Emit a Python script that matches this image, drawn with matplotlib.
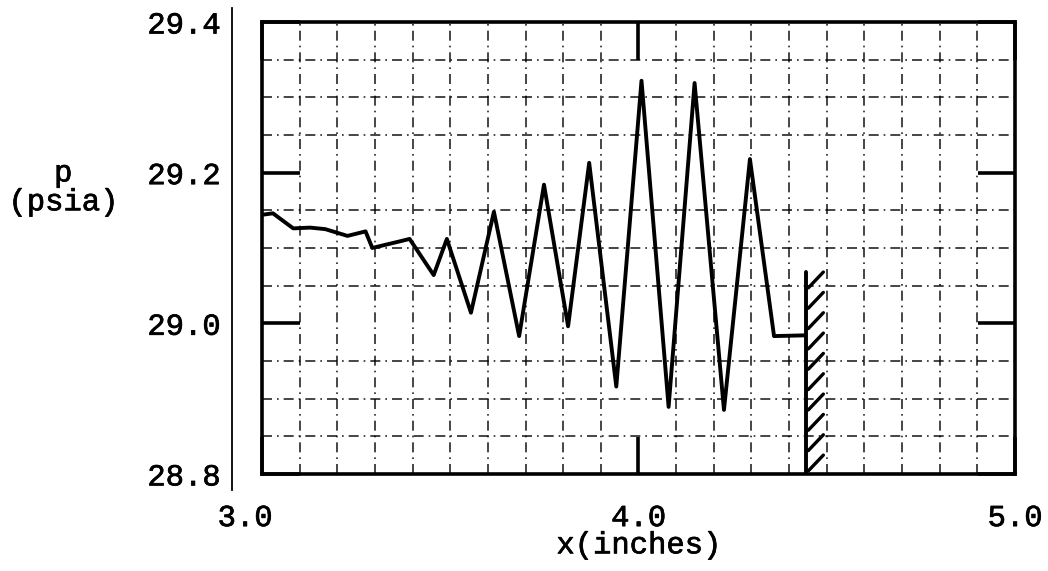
import matplotlib
matplotlib.use("Agg")
import matplotlib.pyplot as plt
import matplotlib.transforms as mtransforms
import matplotlib.patheffects as pe
import numpy as np

# ---- data ----
x_in = [3.0, 3.029, 3.083, 3.128, 3.168, 3.227, 3.275, 3.293, 3.368, 3.392,
        3.456, 3.491, 3.555, 3.616, 3.683, 3.749, 3.813, 3.869, 3.941, 4.008,
        4.080, 4.149, 4.227, 4.296, 4.360, 4.443]
p_psia = [29.144, 29.146, 29.126, 29.127, 29.125, 29.116, 29.122, 29.100, 29.109, 29.112,
          29.064, 29.112, 29.014, 29.148, 28.983, 29.184, 28.996, 29.213, 28.916, 29.322,
          28.889, 29.319, 28.885, 29.218, 28.983, 28.984]
wall_x = 4.445
wall_top = 29.068

x_ticks = [3.0, 4.0, 5.0]
x_tick_labels = ["3.0", "4.0", "5.0"]
y_ticks = [28.8, 29.0, 29.2, 29.4]
y_tick_labels = ["28.8", "29.0", "29.2", "29.4"]
x_grid_step = 0.1
y_grid_step = 0.05

# hatch styling (wall symbol)
hatch_step = 0.027
hatch_dx = 0.040
hatch_dy = 0.021

mono = ["Liberation Mono", "DejaVu Sans Mono"]
fs = 22
heavy = [pe.withStroke(linewidth=0.5, foreground="black")]

fig = plt.figure(figsize=(10.48, 5.71), dpi=100)
ax = fig.add_axes([0.25, 0.17, 0.7185, 0.7915])

ax.set_xlim(3.0, 5.0)
ax.set_ylim(28.8, 29.4)

# grid (graph paper)
ax.set_xticks(np.arange(3.0 + x_grid_step, 5.0 - 1e-9, x_grid_step), minor=True)
ax.set_yticks(np.arange(28.8 + y_grid_step, 29.4 - 1e-9, y_grid_step), minor=True)
ax.grid(which="minor", color="black", linestyle=(0, (6, 3, 1, 3)), linewidth=1.2, alpha=0.85)
ax.tick_params(which="minor", length=0)

# data line
ax.plot(x_in, p_psia, color="black", linewidth=2.8, solid_joinstyle="round",
        solid_capstyle="round", zorder=5)

# wall with hatch strokes
ax.plot([wall_x, wall_x], [28.8, wall_top], color="black", linewidth=2.8,
        solid_capstyle="round", zorder=5)
for y0 in np.arange(28.8 + 0.004, wall_top - hatch_dy + 0.004, hatch_step):
    ax.plot([wall_x + 0.006, wall_x + 0.006 + hatch_dx], [y0, y0 + hatch_dy],
            color="black", linewidth=2.4, solid_capstyle="round", zorder=5)

# frame and ticks
for s in ax.spines.values():
    s.set_linewidth(2.6)
ax.set_xticks(x_ticks)
ax.set_xticklabels(x_tick_labels, fontfamily=mono, fontsize=fs)
ax.set_yticks(y_ticks)
ax.set_yticklabels(y_tick_labels, fontfamily=mono, fontsize=fs)
for t in ax.get_xticklabels() + ax.get_yticklabels():
    t.set_path_effects(heavy)
ax.tick_params(which="major", direction="in", length=27, width=2.6,
               left=True, right=True, top=True, bottom=True)
ax.tick_params(axis="y", which="major", pad=30)
ax.tick_params(axis="x", which="major", pad=21)

# first x label sits a little left of the corner in the reference
first = ax.get_xticklabels()[0]
first.set_transform(first.get_transform() +
                    mtransforms.ScaledTranslation(-0.17, 0, fig.dpi_scale_trans))

# outer left line
ax.plot([-0.04, -0.04], [-0.035, 1.03], transform=ax.transAxes, clip_on=False,
        color="black", linewidth=1.3)

xl = ax.set_xlabel("x(inches)", fontfamily=mono, fontsize=fs, labelpad=-2)
yl = ax.set_ylabel("p\n(psia)", fontfamily=mono, fontsize=fs, rotation=0,
                   ha="center", va="center", linespacing=0.95)
xl.set_path_effects(heavy)
yl.set_path_effects(heavy)
ax.yaxis.set_label_coords(-0.264, 0.633)

fig.savefig("out.png", dpi=100)
